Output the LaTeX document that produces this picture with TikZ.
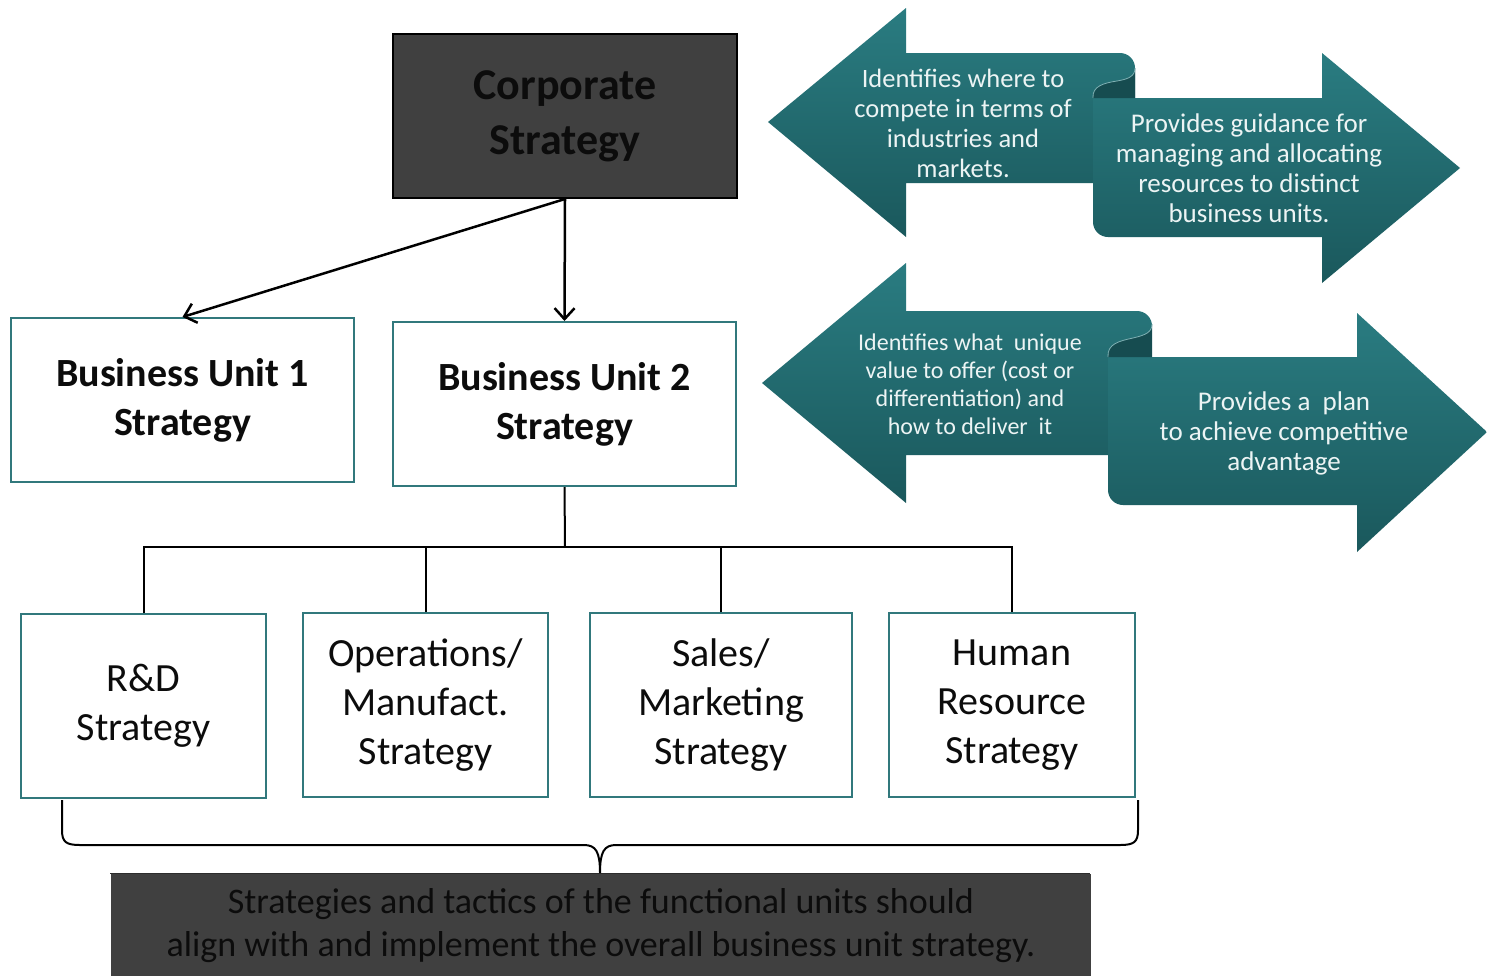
\documentclass[tikz,border=0pt]{standalone}
\usepackage{fontspec}
\setmainfont{Carlito}
\usetikzlibrary{arrows.meta}
\definecolor{tealtop}{RGB}{42,124,129}
\definecolor{tealbot}{RGB}{26,88,92}
\definecolor{tealcurl}{RGB}{22,76,80}
\definecolor{tealedge}{RGB}{49,120,124}
\definecolor{darkbox}{RGB}{64,64,64}
\definecolor{arrowtxt}{RGB}{236,244,244}
\definecolor{boxtxt}{RGB}{12,12,12}
\tikzset{
  tealbox/.style={draw=tealedge, line width=2pt, fill=white, align=center, inner sep=0pt},
  darkfill/.style={draw=black, line width=2pt, fill=darkbox, align=center, inner sep=0pt},
  bigarrow/.style={top color=tealtop, bottom color=tealbot, draw=none},
  curl/.style={fill=tealcurl},
  curlline/.style={draw=tealtop!60!white, line width=0.8pt},
  conn/.style={draw=black, line width=2.5pt},
  arrtip/.style={-{Straight Barb[length=11pt,width=20pt,line width=2.5pt]}},
  arrtext/.style={text=arrowtxt, align=center, inner sep=0pt},
}
\begin{document}
\begin{tikzpicture}[x=1pt,y=-1pt]
\useasboundingbox (0,0) rectangle (1487,975);
\fill[white] (0,0) rectangle (1487,975);

% ---------- big scroll arrows, row 1 ----------
\shade[bigarrow] (768,122) -- (906,8) -- (906,53)
  [rounded corners=15pt] -- (1135,53) [sharp corners] -- (1135,183) -- (906,183) -- (906,237) -- cycle;
\shade[bigarrow] (1093,98) -- (1322,98) -- (1322,53) -- (1460,168) -- (1322,283) -- (1322,237)
  [rounded corners=15pt] -- (1093,237) [sharp corners] -- cycle;
\fill[curl] (1093,98) .. controls (1092,86) and (1104,83) .. (1117,81)
  .. controls (1129,79) and (1135,76) .. (1135,68) -- (1135,98) -- cycle;
\draw[curlline] (1093,98) .. controls (1092,86) and (1104,83) .. (1117,81)
  .. controls (1129,79) and (1135,76) .. (1135,68);

% ---------- big scroll arrows, row 2 ----------
\shade[bigarrow] (762,383) -- (906,263) -- (906,311)
  [rounded corners=15pt] -- (1152,311) [sharp corners] -- (1152,455) -- (906,455) -- (906,503) -- cycle;
\shade[bigarrow] (1108,357) -- (1357,357) -- (1357,313) -- (1487,432) -- (1357,552) -- (1357,505)
  [rounded corners=15pt] -- (1108,505) [sharp corners] -- cycle;
\fill[curl] (1108,357) .. controls (1107,344) and (1119,341) .. (1133,338)
  .. controls (1146,335) and (1152,332) .. (1152,324) -- (1152,357) -- cycle;
\draw[curlline] (1108,357) .. controls (1107,344) and (1119,341) .. (1133,338)
  .. controls (1146,335) and (1152,332) .. (1152,324);

% ---------- arrow texts ----------
\node[arrtext, font=\fontsize{26.5}{30}\selectfont] (t1) at (963,123)
  {Identifies where to\\compete in terms of\\industries and\\markets.};
\node[arrtext, font=\fontsize{27}{30}\selectfont] (t2) at (1249,168)
  {Provides guidance for\\managing and allocating\\resources to distinct\\business units.};
\node[arrtext, font=\fontsize{24}{28}\selectfont] (t3) at (970,384)
  {Identifies what\ \ unique\\value to offer (cost or\\differentiation) and\\how to deliver\ \ it};
\node[arrtext, font=\fontsize{27}{30}\selectfont] (t4) at (1284,433)
  {Provides a\ \ plan\\to achieve competitive\\advantage};

% ---------- hierarchy boxes ----------
\node[darkfill, minimum width=344pt, minimum height=164pt, font=\bfseries\fontsize{44}{55}\selectfont, text=boxtxt]
  (corp) at (565,116) {Corporate\\Strategy};
\node[tealbox, minimum width=343pt, minimum height=164pt, font=\bfseries\fontsize{40}{49}\selectfont, text=boxtxt]
  (bu1) at (182.5,400) {Business Unit 1\\Strategy};
\node[tealbox, minimum width=343pt, minimum height=164pt, font=\bfseries\fontsize{40}{49}\selectfont, text=boxtxt]
  (bu2) at (564.5,404) {Business Unit 2\\Strategy};

\node[tealbox, minimum width=245pt, minimum height=184pt, font=\fontsize{40}{49}\selectfont, text=boxtxt]
  (rd) at (143.5,706) {R\&D\\Strategy};
\node[tealbox, minimum width=245pt, minimum height=184pt, font=\fontsize{40}{49}\selectfont, text=boxtxt]
  (ops) at (425.5,705) {Operations/\\Manufact.\\Strategy};
\node[tealbox, minimum width=262pt, minimum height=184pt, font=\fontsize{40}{49}\selectfont, text=boxtxt]
  (sales) at (721,705) {Sales/\\Marketing\\Strategy};
\node[tealbox, minimum width=246pt, minimum height=184pt, font=\fontsize{40}{49}\selectfont, text=boxtxt]
  (hr) at (1012,705) {Human\\Resource\\Strategy};

% ---------- connectors ----------
\draw[conn, arrtip] (corp.south) -- (bu1.north);
\draw[conn, arrtip] (corp.south) -- (bu2.north);

\coordinate (bus) at (565,547);
\draw[conn, line width=2pt] (bu2.south) -- (bus);
\draw[conn, line width=2pt] (rd.north) -- (rd.north |- bus) -- (hr.north |- bus) -- (hr.north);
\draw[conn, line width=2pt] (ops.north) -- (ops.north |- bus);
\draw[conn, line width=2pt] (sales.north) -- (sales.north |- bus);

% ---------- brace and summary box ----------
\node[darkfill, draw=none, minimum width=980pt, minimum height=104pt, anchor=north west,
  font=\fontsize{36}{43}\selectfont, text=boxtxt] (sum) at (110,873)
  {Strategies and tactics of the functional units should\\align with and implement the overall business unit strategy.};
\draw[darkbox!70!black, line width=1pt] (110,873) -- (1090,873);

\coordinate (bl) at (62,800);
\coordinate (br) at (1138,800);
\draw[black, line width=2pt] (bl) -- (62,830) .. controls (62,842) and (66,845) .. (80,845)
  -- (584,845) .. controls (596,845) and (600,852) .. (600,873)
  .. controls (600,852) and (604,845) .. (616,845)
  -- (1120,845) .. controls (1134,845) and (1138,842) .. (1138,830) -- (br);
\end{tikzpicture}
\end{document}
